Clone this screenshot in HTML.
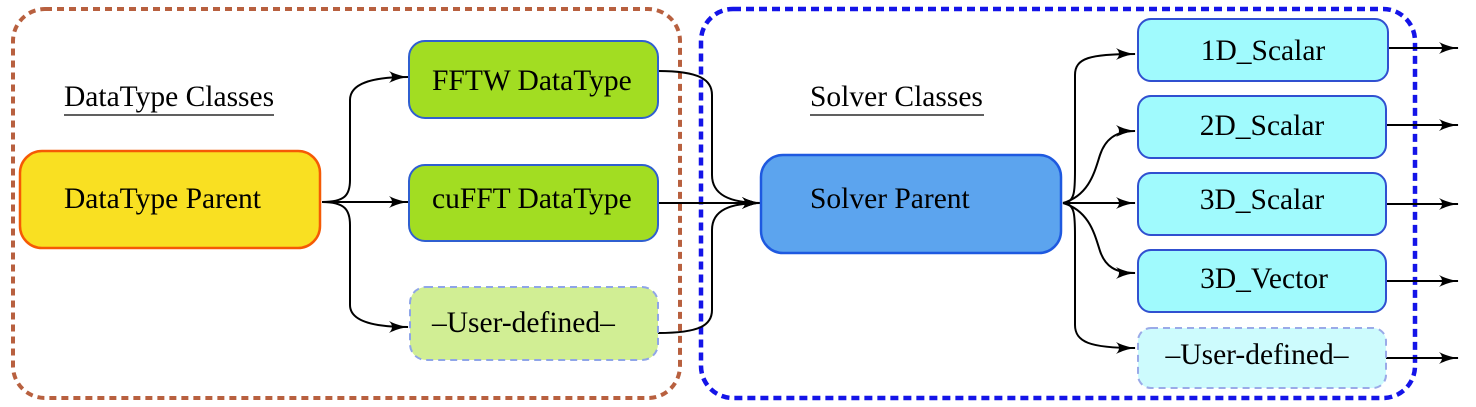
<!DOCTYPE html>
<html><head><meta charset="utf-8"><style>
html,body{margin:0;padding:0;background:#fff;}
svg{display:block;}
text{font-family:"Liberation Serif",serif;font-size:29.5px;fill:#000;}
</style></head><body>
<svg width="1476" height="407" viewBox="0 0 1476 407" xmlns="http://www.w3.org/2000/svg">
<defs>
<marker id="a" viewBox="0 0 20 12" refX="19" refY="6" markerWidth="20" markerHeight="12" markerUnits="userSpaceOnUse" orient="auto">
<path d="M0,0 C6,3 12,5 20,6 C12,7 6,9 0,12 C4,8 4,4 0,0 Z" fill="#000"/>
</marker>
</defs>
<rect x="13" y="9" width="667" height="389" rx="32" fill="none" stroke="#b8603f" stroke-width="4" stroke-dasharray="7,5"/>
<rect x="701" y="9" width="714" height="389" rx="32" fill="none" stroke="#1414e8" stroke-width="4.5" stroke-dasharray="8,5"/>

<text x="64" y="106">DataType Classes</text>
<line x1="64" y1="115" x2="274" y2="115" stroke="#000" stroke-width="1.3"/>
<text x="810" y="106">Solver Classes</text>
<line x1="810" y1="115" x2="984" y2="115" stroke="#000" stroke-width="1.3"/>

<g fill="none" stroke="#000" stroke-width="2">
<path d="M322,202 C345,202 350,195 350,180 L350,100 C350,84 370,77 408,77" marker-end="url(#a)"/>
<path d="M322,202 L408,202" marker-end="url(#a)"/>
<path d="M322,202 C345,202 350,210 350,225 L350,305 C350,320 370,327 408,327" marker-end="url(#a)"/>
<path d="M658,71 C700,71 712,80 712,95 L712,175 C712,195 730,203 761,203" marker-end="url(#a)"/>
<path d="M658,203 L761,203" marker-end="url(#a)"/>
<path d="M658,333 C700,333 712,325 712,310 L712,230 C712,210 730,203 761,203" marker-end="url(#a)"/>
<path d="M1063,203 C1075,203 1075,190 1075,170 L1075,75 C1075,58 1090,54 1135,54" marker-end="url(#a)"/>
<path d="M1063,203 C1090,195 1095,170 1100,155 C1105,140 1115,131 1135,131" marker-end="url(#a)"/>
<path d="M1063,203 L1135,203" marker-end="url(#a)"/>
<path d="M1063,203 C1090,211 1095,236 1100,251 C1105,266 1115,273 1135,273" marker-end="url(#a)"/>
<path d="M1063,203 C1075,203 1075,216 1075,236 L1075,325 C1075,342 1090,348 1135,348" marker-end="url(#a)"/>
<path d="M1388,48 L1458,48" marker-end="url(#a)"/>
<path d="M1386,125 L1458,125" marker-end="url(#a)"/>
<path d="M1386,204 L1458,204" marker-end="url(#a)"/>
<path d="M1386,281 L1458,281" marker-end="url(#a)"/>
<path d="M1386,358 L1458,358" marker-end="url(#a)"/>
</g>

<rect x="20" y="151" width="300" height="97" rx="22" fill="#f9e022" stroke="#f55a05" stroke-width="2.5"/>
<text x="64" y="208">DataType Parent</text>
<rect x="409" y="41" width="249" height="77" rx="16" fill="#a2dd22" stroke="#2f5fd0" stroke-width="2"/>
<text x="432" y="90">FFTW DataType</text>
<rect x="409" y="165" width="249" height="76" rx="16" fill="#a2dd22" stroke="#2f5fd0" stroke-width="2"/>
<text x="432" y="208">cuFFT DataType</text>
<rect x="410" y="287" width="248" height="73" rx="16" fill="#d1ee94" stroke="#8fa5e8" stroke-width="2" stroke-dasharray="7,5"/>
<text x="432" y="332">–User-defined–</text>

<rect x="761" y="155" width="300" height="98" rx="22" fill="#5ca4ee" stroke="#1e59e0" stroke-width="2.5"/>
<text x="810" y="208">Solver Parent</text>

<g stroke="#3050d0" stroke-width="2" fill="#a0fafd">
<rect x="1138" y="19" width="250" height="62" rx="13"/>
<rect x="1138" y="96" width="248" height="62" rx="13"/>
<rect x="1138" y="173" width="248" height="62" rx="13"/>
<rect x="1138" y="250" width="248" height="62" rx="13"/>
</g>
<rect x="1138" y="328" width="248" height="60" rx="13" fill="#cdfbfd" stroke="#9aaae8" stroke-width="2" stroke-dasharray="7,5"/>
<text x="1263" y="60" text-anchor="middle">1D_Scalar</text>
<text x="1262" y="135" text-anchor="middle">2D_Scalar</text>
<text x="1262" y="209" text-anchor="middle">3D_Scalar</text>
<text x="1264" y="288" text-anchor="middle">3D_Vector</text>
<text x="1257" y="364" text-anchor="middle">–User-defined–</text>
</svg>
</body></html>
